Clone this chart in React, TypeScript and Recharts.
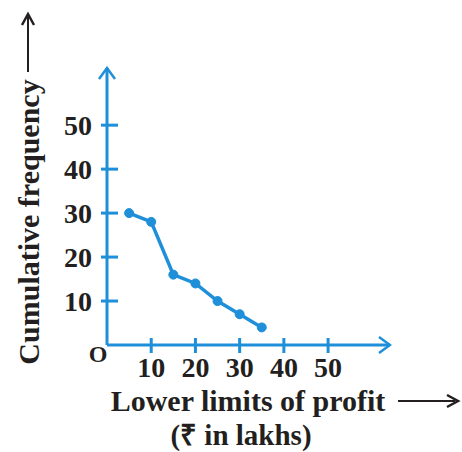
import React from "react";
import { LineChart, Line, XAxis, YAxis } from "recharts";

// lower limits of profit (₹ in lakhs) and "more than" cumulative frequency
const lowerLimits = [5, 10, 15, 20, 25, 30, 35];
const cumFreq = [30, 28, 16, 14, 10, 7, 4];
const xTicks = [10, 20, 30, 40, 50];
const yTicks = [10, 20, 30, 40, 50];

const data = lowerLimits.map((x, i) => ({ x, cf: cumFreq[i] }));

const BLUE = "#1e8fd8";
const INK = "#231f20";
const FONT = "'Liberation Serif', 'Times New Roman', serif";

function YTick({ x, y, payload }: any) {
  return (
    <g>
      <line x1={x - 6} x2={x + 11} y1={y} y2={y} stroke={BLUE} strokeWidth={3} />
      <text x={x - 15} y={y} textAnchor="end" dominantBaseline="central" fill={INK}
        fontFamily={FONT} fontWeight="bold" fontSize={28}>
        {payload.value}
      </text>
    </g>
  );
}

function XTick({ x, y, payload }: any) {
  return (
    <g>
      <line x1={x} x2={x} y1={y - 7} y2={y + 8} stroke={BLUE} strokeWidth={3} />
      <text x={x} y={y + 22} textAnchor="middle" dominantBaseline="central" fill={INK}
        fontFamily={FONT} fontWeight="bold" fontSize={28}>
        {payload.value}
      </text>
    </g>
  );
}

export default function App() {
  return (
    <div style={{ position: "absolute", left: 0, top: 0, background: "#fff" }}>
      <LineChart width={462} height={452} data={data}
        margin={{ top: 68, right: 72, bottom: 0, left: 0 }}>
        <defs>
          <marker id="axisArrow" viewBox="0 0 14 18" refX="12" refY="9" markerWidth="14" markerHeight="18"
            markerUnits="userSpaceOnUse" orient="auto-start-reverse">
            <path d="M1,1 L12,9 L1,17" fill="none" stroke={BLUE} strokeWidth={2.5} />
          </marker>
        </defs>
        <XAxis type="number" dataKey="x" domain={[0, 64]} ticks={xTicks} interval={0}
          axisLine={{ stroke: BLUE, strokeWidth: 3, markerEnd: "url(#axisArrow)" }}
          tickLine={false} tickSize={0} tickMargin={0} tick={<XTick />} height={107} />
        <YAxis type="number" domain={[0, 63]} ticks={yTicks} interval={0} width={107}
          axisLine={{ stroke: BLUE, strokeWidth: 3, markerStart: "url(#axisArrow)" }}
          tickLine={false} tickSize={0} tickMargin={0} tick={<YTick />} />
        <Line type="linear" dataKey="cf" stroke={BLUE} strokeWidth={3.5}
          dot={{ r: 4.5, fill: BLUE, stroke: BLUE, strokeWidth: 1 }} isAnimationActive={false} />

        {/* origin */}
        <text x={98} y={354} textAnchor="middle" dominantBaseline="central" fill={INK}
          fontFamily={FONT} fontWeight="bold" fontSize={24}>O</text>

        {/* y-axis title */}
        <g fontFamily={FONT} fontWeight="bold" fill={INK}>
          <text x={28} y={222} transform="rotate(-90 28 222)" textAnchor="middle"
            dominantBaseline="central" fontSize={30}>Cumulative frequency</text>
          <line x1={28} x2={28} y1={72} y2={17} stroke={INK} strokeWidth={2} />
          <path d="M22,25 L28,14 L34,25" fill="none" stroke={INK} strokeWidth={2.5} />

          {/* x-axis title */}
          <text x={248} y={400} textAnchor="middle" dominantBaseline="central" fontSize={30}>
            Lower limits of profit
          </text>
          <line x1={398} x2={455} y1={401} y2={401} stroke={INK} strokeWidth={2} />
          <path d="M447,395 L458,401 L447,407" fill="none" stroke={INK} strokeWidth={2.5} />
          <text x={241} y={435} textAnchor="middle" dominantBaseline="central" fontSize={29}>
            (₹ in lakhs)
          </text>
        </g>
      </LineChart>
    </div>
  );
}
